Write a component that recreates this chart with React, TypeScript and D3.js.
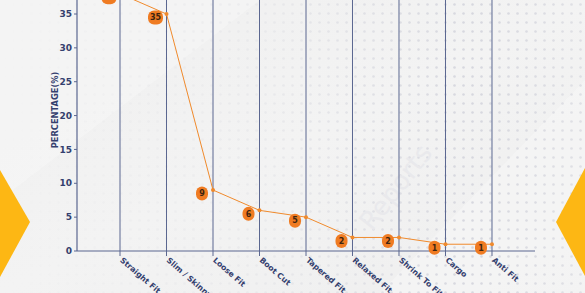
import React from "react";
import * as d3 from "d3";

const categories = ["Straight Fit", "Slim / Skinny", "Loose Fit", "Boot Cut", "Tapered Fit", "Relaxed Fit", "Shrink To Fit", "Cargo", "Anti Fit"];
const values = [38, 35, 9, 6, 5, 2, 2, 1, 1];
const yTicks = [0, 5, 10, 15, 20, 25, 30, 35];

const W = 585;
const H = 293;
const navy = "#34406e";
const orange = "#f08a2c";

export default function App() {
  const x = d3.scalePoint<string>().domain(categories).range([77, 535]).padding(0.925);
  const y = d3.scaleLinear().domain([0, 35]).range([251, 14]);
  const line = d3.line<number>().x((_, i) => x(categories[i])!).y((d) => y(d));

  return (
    <svg width={W} height={H} style={{ position: "absolute", left: 0, top: 0, display: "block", fontFamily: "'DejaVu Sans', sans-serif" }}>
      <defs>
        <linearGradient id="bg" x1="0" y1="0" x2="1" y2="1">
          <stop offset="0" stopColor="#efefef" />
          <stop offset="0.5" stopColor="#f3f3f3" />
          <stop offset="1" stopColor="#eeeeee" />
        </linearGradient>
        <pattern id="dots" width="9" height="9" patternUnits="userSpaceOnUse">
          <circle cx="4.5" cy="4.5" r="1.3" fill="#d6d7de" />
        </pattern>
        <linearGradient id="fade" x1="0" y1="0" x2="1" y2="0">
          <stop offset="0" stopColor="#fff" stopOpacity="0" />
          <stop offset="0.45" stopColor="#fff" stopOpacity="0.3" />
          <stop offset="0.8" stopColor="#fff" stopOpacity="1" />
          <stop offset="1" stopColor="#fff" stopOpacity="0.7" />
        </linearGradient>
        <mask id="dotmask">
          <rect x="0" y="0" width={W} height={H} fill="url(#fade)" />
        </mask>
      </defs>
      <rect x={0} y={0} width={W} height={H} fill="url(#bg)" />
      <polygon points="0,0 260,0 0,200" fill="#f6f6f6" opacity={0.6} />
      <polygon points="380,293 585,80 585,293" fill="#f6f6f6" opacity={0.6} />
      <rect x={0} y={0} width={W} height={H} fill="url(#dots)" mask="url(#dotmask)" />
      <polygon points="0,170 30,222 0,277" fill="#fdb714" />
      <polygon points="585,168 556,222 585,276" fill="#fdb714" />
      <text x={372} y={232} transform="rotate(-52 372 232)" fontSize={26} fill="#e9e9ec" fontFamily="'DejaVu Sans', sans-serif">Reports</text>

      {categories.map((c) => (
        <line key={c} x1={x(c)} x2={x(c)} y1={0} y2={256} stroke="#5b6790" strokeWidth={1} />
      ))}
      <line x1={77} x2={77} y1={0} y2={251} stroke="#5b6790" strokeWidth={1.2} />
      <line x1={77} x2={535} y1={251} y2={251} stroke="#5b6790" strokeWidth={1.2} />
      {yTicks.map((t) => (
        <g key={t}>
          <line x1={74} x2={77} y1={y(t)} y2={y(t)} stroke="#5b6790" />
          <text x={72} y={y(t)} dy="0.35em" textAnchor="end" fontSize={9} fontWeight="bold" fill={navy}>{t}</text>
        </g>
      ))}
      <text transform="translate(58,110) rotate(-90)" textAnchor="middle" fontSize={8.3} fontWeight="bold" fill={navy}>PERCENTAGE(%)</text>

      {categories.map((c) => (
        <text key={c} transform={`translate(${x(c)! + 2},${258}) rotate(41)`} fontSize={7.8} fontWeight="bold" fill={navy} dy="0.5em">{c}</text>
      ))}

      <path d={line(values)!} fill="none" stroke={orange} strokeWidth={1} />
      {values.map((v, i) => (
        <circle key={i} cx={x(categories[i])} cy={y(v)} r={2} fill={orange} />
      ))}
      {values.map((v, i) => {
        const cx = x(categories[i])! - 11;
        const cy = y(v) + 3.5;
        const w = v >= 10 ? 15 : 12;
        return (
          <g key={"l" + i}>
            <rect x={cx - w / 2} y={cy - 7} width={w} height={14} rx={6} fill="#ef7b22" />
            <text x={cx} y={cy} dy="0.35em" textAnchor="middle" fontSize={8} fontWeight="bold" fill="#3e2410">{v}</text>
          </g>
        );
      })}
    </svg>
  );
}
